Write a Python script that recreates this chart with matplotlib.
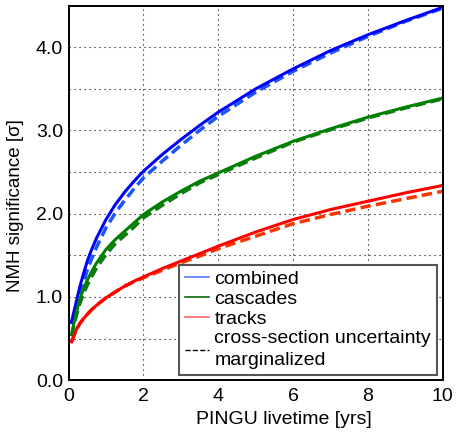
import numpy as np
import matplotlib.pyplot as plt
from matplotlib.lines import Line2D

plt.rcParams['font.family'] = ['Liberation Sans', 'DejaVu Sans']

# livetime in years
t = [0.08, 0.2, 0.3, 0.4, 0.5, 0.6, 0.75, 1.0, 1.25, 1.5, 1.75, 2.0, 2.5, 3.0,
     3.5, 4.0, 5.0, 6.0, 7.0, 8.0, 9.0, 10.0]

# NMH significance, solid = nominal, dashed = xsec uncertainty marginalized
combined = [0.70, 0.93, 1.12, 1.28, 1.43, 1.55, 1.71, 1.93, 2.11, 2.26, 2.39, 2.51,
            2.71, 2.89, 3.06, 3.22, 3.50, 3.74, 3.96, 4.15, 4.32, 4.48]
combined_xs = [0.67, 0.86, 1.03, 1.18, 1.32, 1.44, 1.60, 1.83, 2.01, 2.16, 2.30, 2.43,
               2.63, 2.82, 3.00, 3.17, 3.46, 3.71, 3.93, 4.13, 4.31, 4.47]
cascades = [0.55, 0.80, 0.97, 1.10, 1.20, 1.29, 1.41, 1.57, 1.69, 1.79, 1.89, 1.99,
            2.14, 2.27, 2.39, 2.49, 2.69, 2.87, 3.02, 3.16, 3.28, 3.39]
cascades_xs = [0.53, 0.76, 0.92, 1.04, 1.14, 1.23, 1.35, 1.51, 1.64, 1.74, 1.84, 1.95,
               2.10, 2.24, 2.37, 2.47, 2.67, 2.86, 3.01, 3.15, 3.27, 3.38]
tracks = [0.46, 0.60, 0.68, 0.74, 0.79, 0.84, 0.90, 0.99, 1.06, 1.13, 1.19, 1.24,
          1.34, 1.43, 1.52, 1.61, 1.78, 1.93, 2.05, 2.15, 2.25, 2.34]
tracks_xs = [0.46, 0.60, 0.68, 0.74, 0.79, 0.84, 0.90, 0.99, 1.06, 1.13, 1.18, 1.23,
             1.32, 1.41, 1.49, 1.58, 1.73, 1.88, 1.99, 2.09, 2.18, 2.27]

fig = plt.figure(figsize=(4.57, 4.32), dpi=100)
ax = fig.add_axes([0.150, 0.120, 0.819, 0.867])

# dashed first, solid on top
ax.plot(t, combined_xs, color='#1a55ff', lw=2.5, dashes=(3, 1.5))
ax.plot(t, cascades_xs, color='#107a10', lw=2.5, dashes=(3, 1.5))
ax.plot(t, tracks_xs, color='#ff3300', lw=2.5, dashes=(3, 1.5))
ax.plot(t, combined, color='#0000ff', lw=2.2)
ax.plot(t, cascades, color='#008000', lw=2.2)
ax.plot(t, tracks, color='#ff0000', lw=2.2)

ax.set_xlim(0, 10)
ax.set_ylim(0, 4.5)
ax.set_xticks([0, 2, 4, 6, 8, 10])
yt = np.arange(0, 4.51, 0.5)
ax.set_yticks(yt)
ax.set_yticklabels(['%.1f' % v if v % 1 == 0 else '' for v in yt])
ax.tick_params(length=0, labelsize=14)
ax.tick_params(axis='x', pad=6)
ax.tick_params(axis='y', pad=4)
ax.grid(True, color='black', linestyle=(0, (1, 3.5)), lw=0.8)
for s in ax.spines.values():
    s.set_linewidth(1.4)

ax.set_xlabel('PINGU livetime [yrs]', fontsize=14)
ax.set_ylabel('NMH significance [σ]', fontsize=13.5)
ax.xaxis.set_label_coords(0.575, -0.082)
ax.yaxis.set_label_coords(-0.12, 0.465)

handles = [Line2D([], [], color='#5577ff', lw=1.2),
           Line2D([], [], color='#0a6a0a', lw=1.2),
           Line2D([], [], color='#ff6666', lw=1.2),
           Line2D([], [], color='black', lw=1.0, linestyle='--')]
labels = ['combined', 'cascades', 'tracks', 'cross-section uncertainty\nmarginalized']
leg = ax.legend(handles, labels, loc='lower right', bbox_to_anchor=(0.984, 0.013),
                fontsize=14, fancybox=False, framealpha=1, edgecolor='#555555',
                borderpad=0.3, labelspacing=0.12, handlelength=1.2,
                handletextpad=0.3, borderaxespad=0)
leg.get_frame().set_linewidth(1.5)
leg.get_texts()[3].set_linespacing(1.4)

fig.savefig('out.png', dpi=100)
